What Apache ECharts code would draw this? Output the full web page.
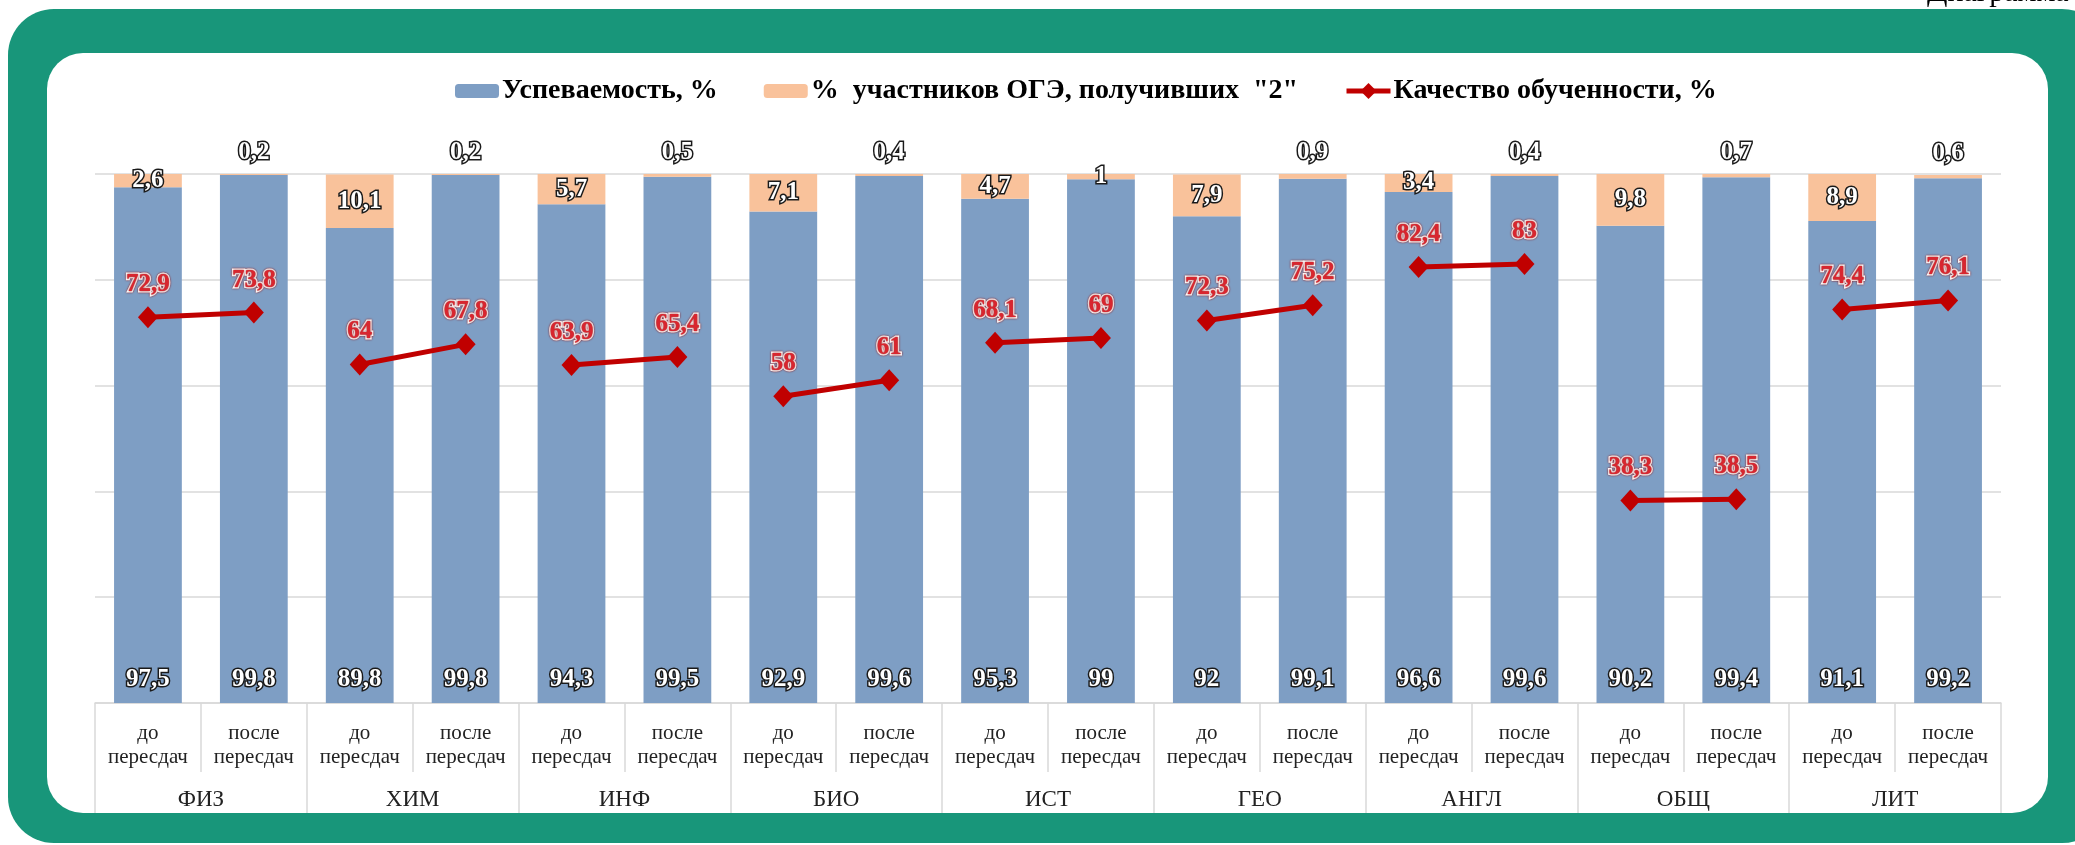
<!DOCTYPE html>
<html>
<head>
<meta charset="utf-8">
<script src="https://cdn.jsdelivr.net/npm/echarts@6/dist/echarts.min.js"></script>
<style>
html,body{margin:0;padding:0;background:#fff;}
#chart{width:2075px;height:845px;}
</style>
</head>
<body>
<div id="chart"></div>
<script>
// ---- data ----
const subjects = ['ФИЗ','ХИМ','ИНФ','БИО','ИСТ','ГЕО','АНГЛ','ОБЩ','ЛИТ'];
const stages = ['до\nпересдач','после\nпересдач'];
const successRate = [97.5,99.8, 89.8,99.8, 94.3,99.5, 92.9,99.6, 95.3,99, 92,99.1, 96.6,99.6, 90.2,99.4, 91.1,99.2];
const failShare   = [2.6,0.2, 10.1,0.2, 5.7,0.5, 7.1,0.4, 4.7,1, 7.9,0.9, 3.4,0.4, 9.8,0.7, 8.9,0.6];
const quality     = [72.9,73.8, 64,67.8, 63.9,65.4, 58,61, 68.1,69, 72.3,75.2, 82.4,83, 38.3,38.5, 74.4,76.1];
const yTicks = [0,20,40,60,80,100];

const nameSuccess = 'Успеваемость, %';
const nameFail = '%  участников ОГЭ, получивших  "2"';
const nameQuality = 'Качество обученности, %';

const inner = [];
subjects.forEach(() => stages.forEach(s => inner.push(s)));

const fmt = v => String(v).replace('.', ',');
const serif = "'Liberation Serif', 'Times New Roman', 'DejaVu Serif', serif";

const whiteLabel = {
  color: '#fff', fontFamily: serif, fontWeight: 'bold', fontSize: 25,
  textBorderColor: '#1a1a1a', textBorderWidth: 3,
  formatter: p => fmt(p.value)
};

const series = [
  {
    name: nameSuccess, type: 'bar', stack: 'a', barWidth: '64%',
    itemStyle: { color: '#7e9ec4' },
    label: Object.assign({ show: true, position: 'insideBottom', distance: 11 }, whiteLabel),
    data: successRate,
    z: 2
  },
  {
    name: nameFail, type: 'bar', stack: 'a', barWidth: '64%',
    itemStyle: { color: '#f9c29b' },
    label: Object.assign({ show: true }, whiteLabel),
    data: failShare.map(v => ({
      value: v,
      label: v < 1 ? { position: 'top', distance: 9 } : { position: 'inside' }
    })),
    z: 2
  }
];

for (let i = 0; i < subjects.length; i++) {
  const d = quality.map((v, j) => (j === 2 * i || j === 2 * i + 1) ? v : '-');
  series.push({
    name: nameQuality, type: 'line', data: d, connectNulls: false,
    symbol: 'diamond', symbolSize: [20, 22],
    lineStyle: { color: '#c00000', width: 5 },
    itemStyle: { color: '#c00000' },
    z: 5,
    label: {
      show: true, position: 'top', distance: 9,
      color: '#d8262f', fontFamily: serif, fontWeight: 'bold', fontSize: 25,
      textBorderColor: '#fff', textBorderWidth: 3,
      textShadowColor: '#8a0000', textShadowBlur: 2,
      formatter: p => fmt(p.value)
    }
  });
}

const legendText = { fontFamily: serif, fontWeight: 'bold', fontSize: 28, color: '#000', padding: [0, 0, 0, -2] };

const chart = echarts.init(document.getElementById('chart'));
chart.setOption({
  backgroundColor: '#fff',
  animation: false,
  graphic: [
    { type: 'text', z: -120, style: { text: 'Диаграмма', x: 1927, y: 8, fill: '#000', font: "30px 'Liberation Serif', serif", verticalAlign: 'bottom' } },
    { type: 'rect', z: -110, shape: { x: 8, y: 9, width: 2100, height: 834, r: 46 }, style: { fill: '#18967a' } },
    { type: 'rect', z: -100, shape: { x: 47, y: 53, width: 2001, height: 760, r: 36 }, style: { fill: '#fff' } }
  ],
  legend: [
    {
      data: [nameSuccess, nameFail], left: 450, top: 72, itemGap: 46,
      itemWidth: 44, itemHeight: 14, selectedMode: false,
      textStyle: legendText
    },
    {
      data: [nameQuality], left: 1339, top: 72,
      itemWidth: 44, itemHeight: 20, selectedMode: false,
      lineStyle: { width: 5, color: '#c00000' },
      itemStyle: { color: '#c00000' },
      textStyle: legendText
    }
  ],
  grid: { left: 95, right: 74, top: 174, bottom: 142, containLabel: false },
  xAxis: [
    {
      type: 'category', data: inner, position: 'bottom',
      axisLine: { show: true, lineStyle: { color: '#d9d9d9', width: 1.5 } },
      axisTick: { show: true, interval: 0, length: 69, lineStyle: { color: '#d9d9d9', width: 1.5 } },
      axisLabel: { interval: 0, margin: 18, fontFamily: serif, fontSize: 21, lineHeight: 24, color: '#222' }
    },
    {
      type: 'category', data: subjects, position: 'bottom', offset: 0,
      axisLine: { show: false },
      axisTick: { show: true, interval: 0, length: 110, lineStyle: { color: '#d9d9d9', width: 1.5 } },
      axisLabel: { interval: 0, margin: 85, fontFamily: serif, fontSize: 23, color: '#222' }
    }
  ],
  yAxis: {
    type: 'value', min: yTicks[0], max: yTicks[yTicks.length - 1], interval: 20,
    axisLabel: { show: false }, axisLine: { show: false }, axisTick: { show: false },
    splitLine: { lineStyle: { color: '#d9d9d9', width: 1.5 } }
  },
  series: series
});
</script>
</body>
</html>
